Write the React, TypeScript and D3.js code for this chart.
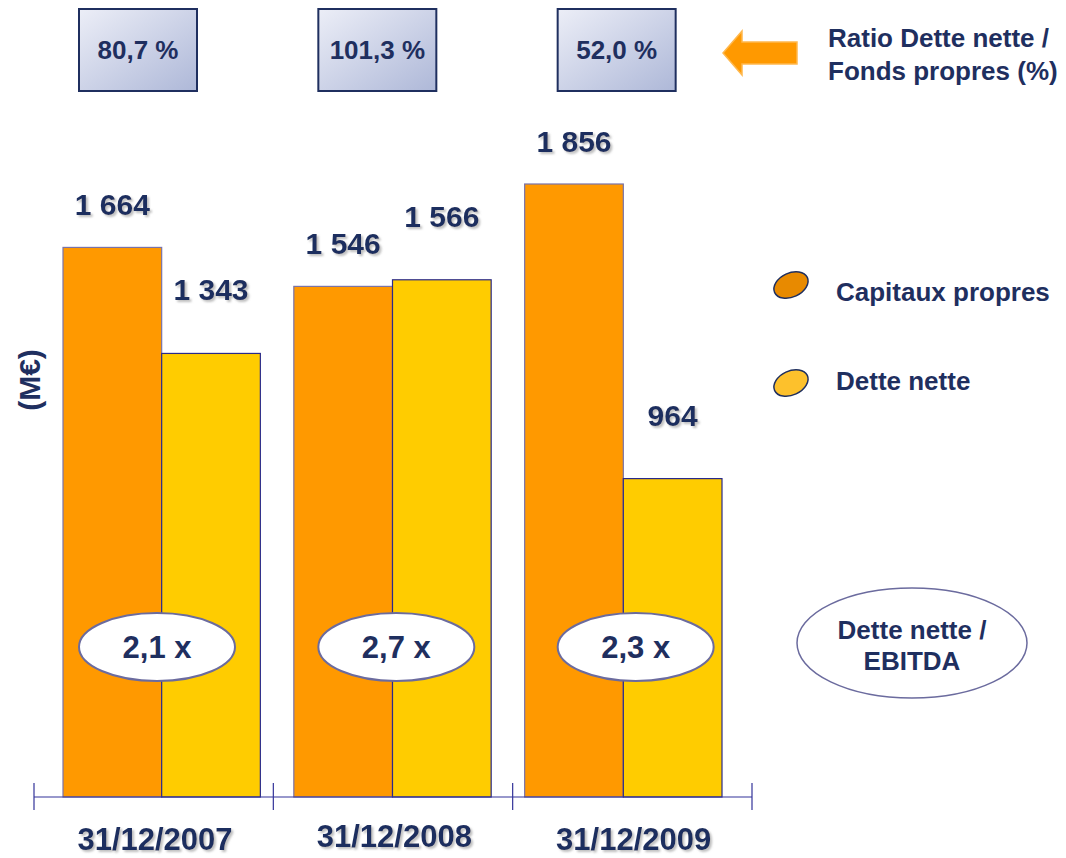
import { useRef, useEffect } from "react";
import * as d3 from "d3";

const years = ["31/12/2007", "31/12/2008", "31/12/2009"];
const series = ["Capitaux propres", "Dette nette"];
const capitaux = [1664, 1546, 1856];
const dette = [1343, 1566, 964];
const valueLabels = [
  ["1 664", "1 343"],
  ["1 546", "1 566"],
  ["1 856", "964"],
];
const ratioLabels = ["80,7 %", "101,3 %", "52,0 %"];
const ebitdaLabels = ["2,1 x", "2,7 x", "2,3 x"];

const NAVY = "#1f2f5f";
const colors = ["#ff9900", "#ffcc00"];
const legendColors = ["#e88a00", "#fdc12c"];

const App = () => {
  const svgRef = useRef<SVGSVGElement | null>(null);
  const width = 1066;
  const height = 858;

  useEffect(() => {
    if (!svgRef.current) return;
    const svg = d3.select(svgRef.current);
    svg.selectAll("*").remove();

    const defs = svg.append("defs");
    const grad = defs
      .append("linearGradient")
      .attr("id", "boxGrad")
      .attr("x1", "0")
      .attr("y1", "0")
      .attr("x2", "1")
      .attr("y2", "1");
    grad.append("stop").attr("offset", "0%").attr("stop-color", "#eceef7");
    grad.append("stop").attr("offset", "100%").attr("stop-color", "#aeb8d8");

    const shadow = defs.append("filter").attr("id", "shadow");
    shadow
      .append("feDropShadow")
      .attr("dx", 2)
      .attr("dy", 2)
      .attr("stdDeviation", 1)
      .attr("flood-color", "#888")
      .attr("flood-opacity", 0.55);

    const font = "'Liberation Sans', Arial, sans-serif";

    // axis bands (ticks, labels) and bar bands
    const xAxisScale = d3.scaleBand().domain(years).range([34, 752]);
    const xScale = d3
      .scaleBand()
      .domain(years)
      .range([63, 722])
      .paddingInner(0.145);
    const inner = d3.scaleBand().domain(series).range([0, xScale.bandwidth()]);
    const yScale = d3.scaleLinear().domain([0, 1856]).range([797, 184]);

    const data = years.map((y, i) => ({
      year: y,
      values: [capitaux[i], dette[i]],
    }));

    // bars
    const groups = svg
      .append("g")
      .selectAll("g")
      .data(data)
      .join("g")
      .attr("transform", (d) => `translate(${xScale(d.year)},0)`);

    groups
      .selectAll("rect")
      .data((d) => d.values.map((v, k) => ({ key: series[k], v, k })))
      .join("rect")
      .attr("x", (d) => inner(d.key)!)
      .attr("y", (d) => yScale(d.v))
      .attr("width", inner.bandwidth())
      .attr("height", (d) => yScale(0) - yScale(d.v))
      .attr("fill", (d) => colors[d.k])
      .attr("stroke", (d) => (d.k === 0 ? "#7a73a8" : "#2a2a8a"))
      .attr("stroke-width", 1.2);

    // value labels
    const labelOffset = [32, 53];
    groups
      .selectAll("text.val")
      .data((d, i) =>
        d.values.map((v, k) => ({ key: series[k], v, k, label: valueLabels[i][k] }))
      )
      .join("text")
      .attr("class", "val")
      .attr("x", (d) => inner(d.key)! + inner.bandwidth() / 2)
      .attr("y", (d) => yScale(d.v) - labelOffset[d.k])
      .attr("text-anchor", "middle")
      .attr("font-family", font)
      .attr("font-weight", "bold")
      .attr("font-size", 30)
      .attr("fill", NAVY)
      .attr("filter", "url(#shadow)")
      .text((d) => d.label);

    // axis
    const axis = svg.append("g");
    axis
      .append("line")
      .attr("x1", 34)
      .attr("x2", 752)
      .attr("y1", yScale(0))
      .attr("y2", yScale(0))
      .attr("stroke", "#333399")
      .attr("stroke-width", 1.2);
    const tickXs = [...years.map((y) => xAxisScale(y)!), 752];
    axis
      .selectAll("line.tick")
      .data(tickXs)
      .join("line")
      .attr("class", "tick")
      .attr("x1", (d) => d)
      .attr("x2", (d) => d)
      .attr("y1", yScale(0) - 14)
      .attr("y2", yScale(0) + 13)
      .attr("stroke", "#333399")
      .attr("stroke-width", 1.2);

    axis
      .selectAll("text")
      .data(years)
      .join("text")
      .attr("x", (d) => xAxisScale(d)! + 121)
      .attr("y", (d, i) => (i === 1 ? 847 : 850))
      .attr("text-anchor", "middle")
      .attr("font-family", font)
      .attr("font-weight", "bold")
      .attr("font-size", 31)
      .attr("fill", NAVY)
      .attr("filter", "url(#shadow)")
      .text((d) => d);

    // EBITDA ellipses
    const eb = svg
      .append("g")
      .selectAll("g")
      .data(years)
      .join("g")
      .attr("transform", (d) => `translate(${xAxisScale(d)! + 123},647)`);
    eb.append("ellipse")
      .attr("rx", 78)
      .attr("ry", 34)
      .attr("fill", "#fff")
      .attr("stroke", "#6b6b9e")
      .attr("stroke-width", 2);
    eb.append("text")
      .attr("y", 11)
      .attr("text-anchor", "middle")
      .attr("font-family", font)
      .attr("font-weight", "bold")
      .attr("font-size", 31)
      .attr("fill", NAVY)
      .text((d, i) => ebitdaLabels[i]);

    // ratio boxes
    const boxes = svg
      .append("g")
      .selectAll("g")
      .data(years)
      .join("g")
      .attr("transform", (d) => `translate(${xAxisScale(d)! + 104},50)`);
    boxes
      .append("rect")
      .attr("x", -59)
      .attr("y", -41)
      .attr("width", 118)
      .attr("height", 82)
      .attr("fill", "url(#boxGrad)")
      .attr("stroke", NAVY)
      .attr("stroke-width", 2);
    boxes
      .append("text")
      .attr("y", 9)
      .attr("text-anchor", "middle")
      .attr("font-family", font)
      .attr("font-weight", "bold")
      .attr("font-size", 26)
      .attr("fill", NAVY)
      .text((d, i) => ratioLabels[i]);

    // arrow
    svg
      .append("path")
      .attr("d", "M723,53 L742,31 L742,42 L797,42 L797,64 L742,64 L742,75 Z")
      .attr("fill", "#ff9900")
      .attr("stroke", "#ffb84d")
      .attr("stroke-width", 1.5);

    const title = svg
      .append("text")
      .attr("font-family", font)
      .attr("font-weight", "bold")
      .attr("font-size", 26)
      .attr("fill", NAVY);
    title.append("tspan").attr("x", 828).attr("y", 47).text("Ratio Dette nette /");
    title.append("tspan").attr("x", 828).attr("y", 80).text("Fonds propres (%)");

    // legend
    const legend = svg
      .append("g")
      .selectAll("g")
      .data(series)
      .join("g")
      .attr("transform", (d, i) => `translate(791,${285 + i * 98})`);
    legend
      .append("ellipse")
      .attr("rx", 18)
      .attr("ry", 12)
      .attr("transform", "rotate(-25)")
      .attr("fill", (d, i) => legendColors[i])
      .attr("stroke", NAVY)
      .attr("stroke-width", 1.5);
    legend
      .append("text")
      .attr("x", 45)
      .attr("y", (d, i) => (i === 0 ? 16 : 7))
      .attr("font-family", font)
      .attr("font-weight", "bold")
      .attr("font-size", 26)
      .attr("fill", NAVY)
      .text((d) => d);

    // Dette nette / EBITDA ellipse
    const lg = svg.append("g").attr("transform", "translate(912,643)");
    lg.append("ellipse")
      .attr("rx", 115)
      .attr("ry", 55)
      .attr("fill", "#fff")
      .attr("stroke", "#6b6b9e")
      .attr("stroke-width", 1.5);
    const lt = lg
      .append("text")
      .attr("text-anchor", "middle")
      .attr("font-family", font)
      .attr("font-weight", "bold")
      .attr("font-size", 26)
      .attr("fill", NAVY);
    lt.append("tspan").attr("x", 0).attr("y", -4).text("Dette nette /");
    lt.append("tspan").attr("x", 0).attr("y", 27).text("EBITDA");

    // y label
    svg
      .append("text")
      .attr("transform", "translate(40,380) rotate(-90)")
      .attr("text-anchor", "middle")
      .attr("font-family", font)
      .attr("font-weight", "bold")
      .attr("font-size", 30)
      .attr("fill", NAVY)
      .text("(M€)");
  }, []);

  return (
    <svg
      ref={svgRef}
      width={width}
      height={height}
      style={{ position: "absolute", left: 0, top: 0, background: "#fff" }}
    ></svg>
  );
};

export default App;
